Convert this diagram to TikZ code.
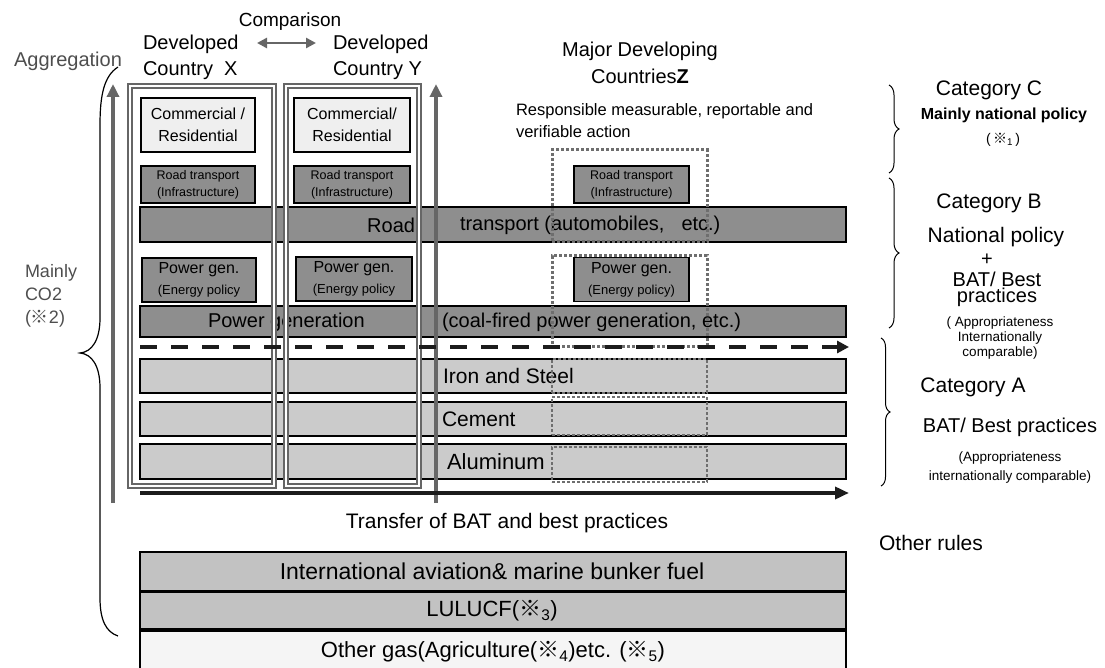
\documentclass[tikz,border=0pt]{standalone}
\usepackage{fontspec}
\setmainfont{Liberation Sans}
\newfontfamily\refmarkfont{Noto Sans CJK JP}
\usetikzlibrary{arrows.meta,decorations.pathreplacing}

\definecolor{linegray}{HTML}{666666}
\definecolor{dotgray}{HTML}{6E6E6E}
\definecolor{darkfill}{HTML}{8E8E8E}
\definecolor{midfill}{HTML}{C2C2C2}
\definecolor{lightfill}{HTML}{CBCBCB}
\definecolor{palefill}{HTML}{EFEFEF}
\definecolor{whitefill}{HTML}{F5F5F5}
\definecolor{txtgray}{HTML}{4E4E4E}
\definecolor{arrowblack}{HTML}{1C1C1C}

% reference mark and font size helpers
\newcommand\kome{{\refmarkfont ※}}
\newcommand\fsz[2]{\fontsize{#1}{#2}\selectfont}

\tikzset{
  txt/.style={inner sep=0pt, outer sep=0pt},
  box/.style={draw=black, line width=1.3pt, inner sep=0pt, outer sep=0pt},
  bar/.style={box, minimum width=706pt},
  cellbox/.style={box, align=center},
  colframe/.style={draw=linegray, line width=2.6pt, double=white, double distance=1.6pt,
                   inner sep=0pt, outer sep=0pt},
  zframe/.style={draw=dotgray, line width=3pt, dash pattern=on 2.8pt off 2.2pt,
                 inner sep=0pt, minimum width=155pt},
  zframethin/.style={zframe, line width=2.4pt},
  uparrow/.style={draw=linegray, line width=4.2pt, -{Triangle[length=13pt,width=12pt]}},
  cmparrow/.style={draw=linegray, line width=2.8pt,
                   {Triangle[length=10pt,width=10pt]}-{Triangle[length=10pt,width=10pt]}},
  flowarrow/.style={draw=arrowblack, line width=3.5pt, -{Triangle[length=14pt,width=12pt]}},
  dasharrow/.style={draw=arrowblack, line width=4pt, dash pattern=on 17pt off 14pt,
                    -{Triangle[length=12pt,width=12pt]}},
  catbrace/.style={draw=black, line width=1pt, decorate,
                   decoration={brace, amplitude=#1}},
  bigbrace/.style={draw=black, line width=1.2pt},
}

\begin{document}
\begin{tikzpicture}[x=1pt, y=-1pt]
\clip (0,0) rectangle (1105,668);
\useasboundingbox (0,0) rectangle (1105,668);

% ---------- headings ----------
\node[txt, font=\fsz{19}{22}] (cmp) at (290,22) {Comparison};
\node[txt, font=\fsz{20}{26}, align=left, anchor=west] (devx) at (143,57) {Developed\\Country\ \ X};
\node[txt, font=\fsz{20}{26}, align=left, anchor=west] (devy) at (333,57) {Developed\\Country Y};
\coordinate (cmpL) at (257,43);
\coordinate (cmpR) at (316,43);
\draw[cmparrow] (cmpL) -- (cmpR);

\node[txt, font=\fsz{20}{24}, text=txtgray] (agg) at (68,61) {Aggregation};

\node[txt, font=\fsz{20}{27}, align=center] (mdc) at (640,63) {Major Developing\\Countries\textbf{Z}};
\node[txt, font=\fsz{16.5}{22}, align=left, anchor=west] (mrv) at (516,121)
  {Responsible measurable, reportable and\\verifiable action};

\node[txt, font=\fsz{18}{23}, text=txtgray, align=left, anchor=west] (co2) at (25,296)
  {Mainly\\CO2\\(\kome 2)};

% ---------- sector bars ----------
\node[bar, fill=darkfill, minimum height=35pt] (roadbar) at (493,224.5) {};
\node[bar, fill=darkfill, minimum height=31pt] (powerbar) at (493,321.5) {};
\node[bar, fill=lightfill, minimum height=34pt] (ironbar) at (493,376) {};
\node[bar, fill=lightfill, minimum height=34pt] (cementbar) at (493,419) {};
\node[bar, fill=lightfill, minimum height=35pt] (alubar) at (493,461.5) {};
\node[bar, fill=midfill, minimum height=39pt] (intlbar) at (493,571.5) {};
\node[bar, fill=midfill, minimum height=37pt] (lulucfbar) at (493,610.5) {};
\node[bar, fill=whitefill, minimum height=44pt] (otherbar) at (493,653) {};

\node[txt, font=\fsz{20}{24}, anchor=east] (roadA) at (415,225) {Road};
\node[txt, font=\fsz{20}{24}, anchor=west] (roadB) at (460,225)
  {transport (automobiles,\hspace{17pt}etc.)};
\node[txt, font=\fsz{20}{24}, anchor=west] (powerA) at (208,322) {Power generation};
\node[txt, font=\fsz{20}{24}, anchor=west] (powerB) at (442,322)
  {(coal-fired power generation, etc.)};
\node[txt, font=\fsz{21}{24}, anchor=west] (ironT) at (443,376) {Iron and Steel};
\node[txt, font=\fsz{21}{24}, anchor=west] (cementT) at (442,419) {Cement};
\node[txt, font=\fsz{22}{24}, anchor=west] (aluT) at (447,461.5) {Aluminum};
\node[txt, font=\fsz{23}{26}] (intlT) at (492,571) {International aviation\& marine bunker fuel};
\node[txt, font=\fsz{22}{26}] (lulucfT) at (492,611) {LULUCF(\kome\textsubscript{3})};
\node[txt, font=\fsz{22}{26}] (otherT) at (493,652)
  {Other gas(Agriculture(\kome\textsubscript{4})etc. (\kome\textsubscript{5})};

% ---------- country cells ----------
\node[cellbox, fill=palefill, minimum width=114pt, minimum height=54pt, font=\fsz{16}{22}]
  (comX) at (198,125) {Commercial /\\Residential};
\node[cellbox, fill=palefill, minimum width=116pt, minimum height=54pt, font=\fsz{16}{22}]
  (comY) at (352,125) {Commercial/\\Residential};
\node[cellbox, fill=darkfill, minimum width=114pt, minimum height=37pt, font=\fsz{12.5}{17}]
  (rtX) at (198,184.5) {Road transport\\(Infrastructure)};
\node[cellbox, fill=darkfill, minimum width=116pt, minimum height=37pt, font=\fsz{12.5}{17}]
  (rtY) at (352,184.5) {Road transport\\(Infrastructure)};
\node[cellbox, fill=darkfill, minimum width=115pt, minimum height=37pt, font=\fsz{12.5}{17}]
  (rtZ) at (631.5,184.5) {Road transport\\(Infrastructure)};
\node[cellbox, fill=darkfill, minimum width=114pt, minimum height=44pt, font=\fsz{16}{21}]
  (pgX) at (199,280) {Power gen.\\{\fsz{13}{15}(Energy policy}};
\node[cellbox, fill=darkfill, minimum width=116pt, minimum height=44pt, font=\fsz{16}{21}]
  (pgY) at (354,279) {Power gen.\\{\fsz{13}{15}(Energy policy}};
\node[cellbox, fill=darkfill, minimum width=115pt, minimum height=44pt, font=\fsz{16}{21}]
  (pgZ) at (631.5,279.5) {Power gen.\\{\fsz{13}{15}(Energy policy)}};

% ---------- country columns ----------
\node[colframe, minimum width=144pt, minimum height=400pt] (colX) at (202,286) {};
\node[colframe, minimum width=133pt, minimum height=400pt] (colY) at (352.5,286) {};

\coordinate (upL0) at (113,503);
\coordinate (upL1) at (113,84);
\coordinate (upR0) at (436,503);
\coordinate (upR1) at (436,84);
\draw[uparrow] (upL0) -- (upL1);
\draw[uparrow] (upR0) -- (upR1);

% ---------- developing country frames ----------
\node[zframe, minimum height=92pt] (zf1) at (629.5,196) {};
\node[zframe, minimum height=90pt] (zf2) at (629.5,301) {};
\node[zframethin, minimum height=34pt] (zf3) at (629.5,376) {};
\node[zframethin, minimum height=38pt] (zf4) at (629.5,416) {};
\node[zframethin, minimum height=35pt] (zf5) at (629.5,464.5) {};

% ---------- horizontal arrows ----------
\coordinate (dashL) at (140,347);
\coordinate (dashR) at (849,347);
\draw[dasharrow] (dashL) -- (dashR);
\coordinate (flowL) at (140,493);
\coordinate (flowR) at (849,493);
\draw[flowarrow] (flowL) -- (flowR);
\node[txt, font=\fsz{21}{24}] (transfer) at (507,523) {Transfer of BAT and best practices};

% ---------- aggregation brace ----------
\coordinate (aggTop) at (118,67);
\coordinate (aggTip) at (80,353);
\coordinate (aggBot) at (118,636);
\draw[bigbrace] (aggTop) .. controls (104,76) and (100,95) .. (100,125) -- (100,318)
  .. controls (100,340) and (92,352) .. (aggTip)
  .. controls (92,354) and (100,366) .. (100,388) -- (100,598)
  .. controls (100,620) and (106,632) .. (aggBot);

% ---------- categories ----------
\coordinate (bC1) at (889,85);  \coordinate (bC2) at (889,173);
\coordinate (bB1) at (889,178); \coordinate (bB2) at (889,328);
\coordinate (bA1) at (881,338); \coordinate (bA2) at (881,486);
\draw[catbrace=10pt] (bC1) -- (bC2);
\draw[catbrace=10pt] (bB1) -- (bB2);
\draw[catbrace=9pt] (bA1) -- (bA2);

\node[txt, font=\fsz{21}{24}] (catC) at (989,90) {Category C};
\node[txt, font=\fsz{16}{20}\bfseries] (catCt) at (1004,115) {Mainly national policy};
\node[txt, font=\fsz{14}{16}] (catCn) at (1003,140) {(\,\kome\textsubscript{1}\,)};

\node[txt, font=\fsz{21}{24}] (catB) at (989,203) {Category B};
\node[txt, font=\fsz{21}{24}] (catBt) at (996,237) {National policy};
\node[txt, font=\fsz{20}{22}] (catBplus) at (987,260) {+};
\node[txt, font=\fsz{20}{16}, align=center] (catBbat) at (997,289) {BAT/ Best\\practices};
\node[txt, font=\fsz{13.5}{15}, align=center] (catBnote) at (1000,338)
  {( Appropriateness\\Internationally\\comparable)};

\node[txt, font=\fsz{21}{24}] (catA) at (973,387) {Category A};
\node[txt, font=\fsz{20}{24}] (catAt) at (1010,427) {BAT/ Best practices};
\node[txt, font=\fsz{13.5}{19}, align=center] (catAnote) at (1010,467.5)
  {(Appropriateness\\internationally comparable)};

\node[txt, font=\fsz{21}{24}] (other) at (931,543) {Other rules};
\end{tikzpicture}
\end{document}
